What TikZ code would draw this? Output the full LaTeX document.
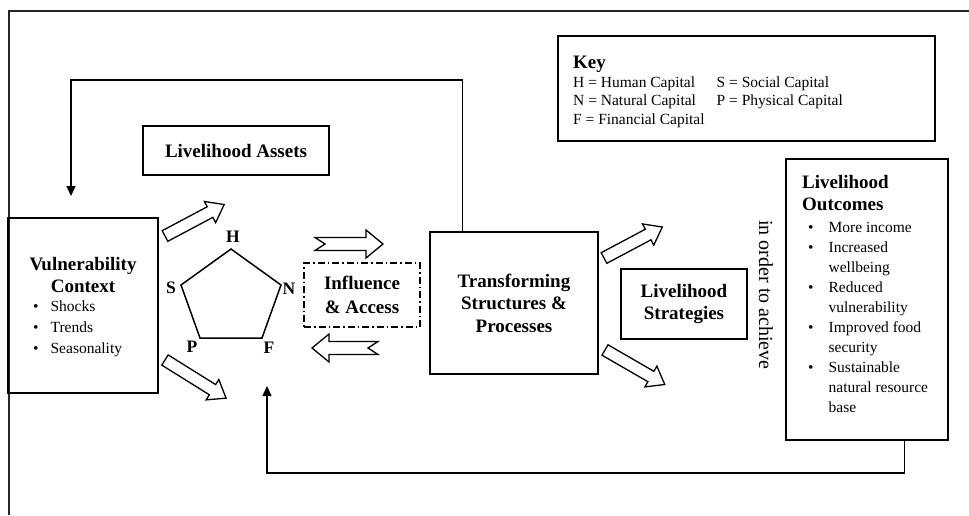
\documentclass[tikz,border=0pt]{standalone}
\usepackage{fontspec}
\setmainfont{Liberation Serif}
\usetikzlibrary{arrows.meta}
\newcommand\headfont{\fontsize{19}{22.5}\selectfont\bfseries}
\tikzset{
  box/.style={draw, line width=1.5pt, inner sep=0pt, align=center, font=\headfont},
  corner/.style={font=\fontsize{17.5}{20}\selectfont\bfseries, inner sep=0pt},
  blockarrow/.style={draw, line width=1.3pt, fill=white, line join=miter},
  feedback/.style={line width=1.4pt, -{Triangle[length=10pt,width=9pt]}},
  pics/plain arrow/.style={code={\draw[blockarrow] (0,-6) -- (#1-16,-6) -- (#1-16,-12) -- (#1,0) -- (#1-16,12) -- (#1-16,6) -- (0,6) -- cycle;}},
  pics/notched arrow/.style={code={\draw[blockarrow] (0,-6.5) -- (#1-17,-6.5) -- (#1-17,-14) -- (#1,0) -- (#1-17,14) -- (#1-17,6.5) -- (0,6.5) -- (10,0) -- cycle;}},
}
\begin{document}
\begin{tikzpicture}[x=1pt, y=-1pt]
	\useasboundingbox (0,0) rectangle (969,515);
	\draw[line width=1.4pt, black!85] (969,11) -- (9,11) -- (9,515);
	% boxes
	\node[box, minimum width=186, minimum height=49] (assets) at (236,150.5) {Livelihood Assets};
	\node[box, minimum width=150, minimum height=175] (vuln) at (83,305.5) {};
	\node[box, line width=1.2pt, dash pattern=on 7pt off 3pt on 1.5pt off 3pt, minimum width=116, minimum height=64, font=\fontsize{19}{23.5}\selectfont\bfseries] (influence) at (362,295) {Influence\\\& Access};
	\node[box, minimum width=168, minimum height=142] (transform) at (514,303) {Transforming\\Structures \&\\Processes};
	\node[box, minimum width=126, minimum height=70] (strategies) at (684,304) {Livelihood\\Strategies};
	\node[box, minimum width=377, minimum height=105] (key) at (746.5,88.5) {};
	\node[box, minimum width=162, minimum height=281] (outcomes) at (867,299.5) {};
	% texts in the boxes
	\node[anchor=base, font=\headfont, inner sep=0pt] (vulntitle) at (83,270) {\begin{tabular}[t]{@{}c@{}}Vulnerability\\Context\end{tabular}};
	\node[anchor=base west, font=\fontsize{15.5}{21}\selectfont, inner sep=0pt] (vulnlist) at (33,311) {\begin{tabular}[t]{@{}l@{\hspace{12pt}}l@{}}\textbullet & Shocks\\ \textbullet & Trends\\ \textbullet & Seasonality\end{tabular}};
	\node[anchor=base west, font=\headfont, inner sep=0pt] (keytitle) at (573,68) {Key};
	\node[anchor=base west, font=\fontsize{15.5}{18.5}\selectfont, inner sep=0pt] (keylist) at (573,87) {\begin{tabular}[t]{@{}l@{\hspace{12pt}}l@{}}H = Human Capital & S = Social Capital\\ N = Natural Capital & P = Physical Capital\\ F = Financial Capital & \end{tabular}};
	\node[anchor=base west, font=\fontsize{19}{22}\selectfont\bfseries, inner sep=0pt] (outtitle) at (802,188) {\begin{tabular}[t]{@{}l@{}}Livelihood\\Outcomes\end{tabular}};
	\node[anchor=base west, font=\fontsize{15.5}{20}\selectfont, inner sep=0pt] (outlist) at (808,232.5) {\begin{tabular}[t]{@{}l@{\hspace{15pt}}l@{}}\textbullet & More income\\ \textbullet & Increased\\ & wellbeing\\ \textbullet & Reduced\\ & vulnerability\\ \textbullet & Improved food\\ & security\\ \textbullet & Sustainable\\ & natural resource\\ & base\end{tabular}};
	\node[rotate=-90, font=\fontsize{20}{24}\selectfont] (achieve) at (766,295) {in order to achieve};
	% asset pentagon
	\coordinate (h) at (231,249);
	\coordinate (n) at (281,285);
	\coordinate (f) at (262,338);
	\coordinate (p) at (200,338);
	\coordinate (s) at (181,285);
	\draw[line width=1.5pt, line join=miter] (h) -- (n) -- (f) -- (p) -- (s) -- cycle;
	\node[corner] (hlabel) at (233,237) {H};
	\node[corner] (slabel) at (171,288) {S};
	\node[corner] (nlabel) at (289,289) {N};
	\node[corner] (plabel) at (192,347) {P};
	\node[corner] (flabel) at (269,348) {F};
	% hollow arrows
	\pic[rotate=28] at (165,236) {plain arrow=67};
	\pic[rotate=-32] at (165,360) {plain arrow=72};
	\pic at (315,244) {notched arrow=68};
	\pic[rotate=180] at (378,348) {notched arrow=66};
	\pic[rotate=28] at (604,258) {plain arrow=66};
	\pic[rotate=-30] at (605,350) {plain arrow=69};
	% feedback lines
	\coordinate (vulnin) at (71,196);
	\coordinate (assetin) at (267,386);
	\draw[feedback] ([xshift=33pt]transform.north west) |- (71,80) -- (vulnin);
	\draw[feedback] ([xshift=119pt]outcomes.south west) |- (267,473) -- (assetin);
\end{tikzpicture}
\end{document}
